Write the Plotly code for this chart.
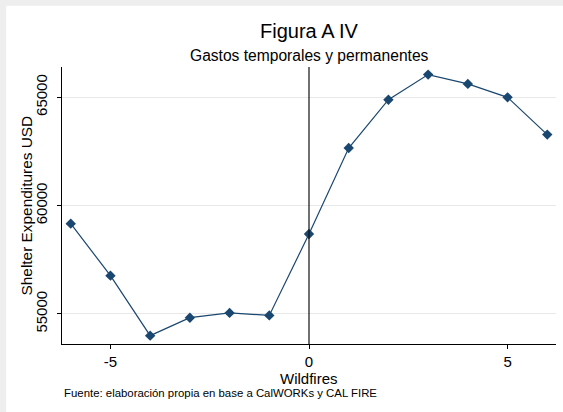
import plotly.graph_objects as go

# Data
event_time = [-6, -5, -4, -3, -2, -1, 0, 1, 2, 3, 4, 5, 6]
shelter_usd = [59170, 56770, 54000, 54830, 55050, 54935, 58690, 62660,
               64890, 66050, 65620, 65000, 63280]
y_ticks = [55000, 60000, 65000]
x_ticks = [-5, 0, 5]

FONT = "Liberation Sans, Arial, sans-serif"
NAVY = "#1a476f"

fig = go.Figure()
fig.add_trace(go.Scatter(
    x=event_time, y=shelter_usd, mode="lines+markers",
    line=dict(color=NAVY, width=1.2),
    marker=dict(symbol="diamond", size=8, color=NAVY),
    showlegend=False, cliponaxis=False,
))

fig.add_vline(x=0, line=dict(color="#111111", width=1.2))

# light frame strips like the reference screenshot border
fig.add_shape(type="rect", xref="paper", yref="paper",
              x0=-0.2, x1=1.1, y0=1.221, y1=1.3,
              fillcolor="#eeeeee", line_width=0, layer="above")
fig.add_shape(type="rect", xref="paper", yref="paper",
              x0=-0.2, x1=-0.113, y0=-0.3, y1=1.3,
              fillcolor="#eeeeee", line_width=0, layer="above")

fig.update_layout(
    width=563, height=412,
    margin=dict(l=62, r=7, t=67, b=68, autoexpand=False),
    paper_bgcolor="white", plot_bgcolor="white",
    font=dict(family=FONT, color="black", size=12),
    annotations=[
        dict(text="Figura A IV", xref="paper", yref="paper", x=0.5, y=1.13,
             yanchor="middle", xanchor="center", showarrow=False,
             font=dict(size=20, family=FONT, color="black")),
        dict(text="Gastos temporales y permanentes", xref="paper", yref="paper",
             x=0.5, y=1.04, yanchor="middle", xanchor="center", showarrow=False,
             font=dict(size=15.6, family=FONT, color="black")),
        dict(text="Wildfires", xref="paper", yref="paper", x=0.5, y=-0.125,
             yanchor="middle", xanchor="center", showarrow=False,
             font=dict(size=15, family=FONT, color="black")),
        dict(text="Shelter Expenditures USD", xref="paper", yref="paper",
             x=-0.0709, y=0.5, xanchor="center", yanchor="middle",
             textangle=-90, showarrow=False,
             font=dict(size=15.4, family=FONT, color="black")),
        dict(text="Fuente: elaboración propia en base a CalWORKs y CAL FIRE",
             xref="paper", yref="paper", x=0.0, y=-0.178, xanchor="left",
             yanchor="middle", showarrow=False,
             font=dict(size=11.4, family=FONT, color="black")),
    ],
    xaxis=dict(
        range=[-6.22, 6.22], tickvals=x_ticks, ticktext=[str(v) for v in x_ticks],
        showgrid=False, zeroline=False, showline=True, linecolor="black",
        linewidth=1, ticks="outside", ticklen=4, tickcolor="black",
        automargin=False, ticklabelstandoff=0,
        tickfont=dict(size=15, family=FONT, color="black"),
    ),
    yaxis=dict(
        range=[53615, 66400], tickvals=y_ticks, ticktext=[str(v) for v in y_ticks],
        showgrid=True, gridcolor="#e8e8e8", gridwidth=1, zeroline=False,
        showline=True, linecolor="black", linewidth=1, ticks="outside",
        ticklen=4, tickcolor="black", tickangle=-90, automargin=False,
        ticklabelstandoff=4,
        tickfont=dict(size=15, family=FONT, color="black"),
    ),
)

fig.write_html("out.html", config={"displayModeBar": False},
               post_script="document.body.style.margin='0';")
